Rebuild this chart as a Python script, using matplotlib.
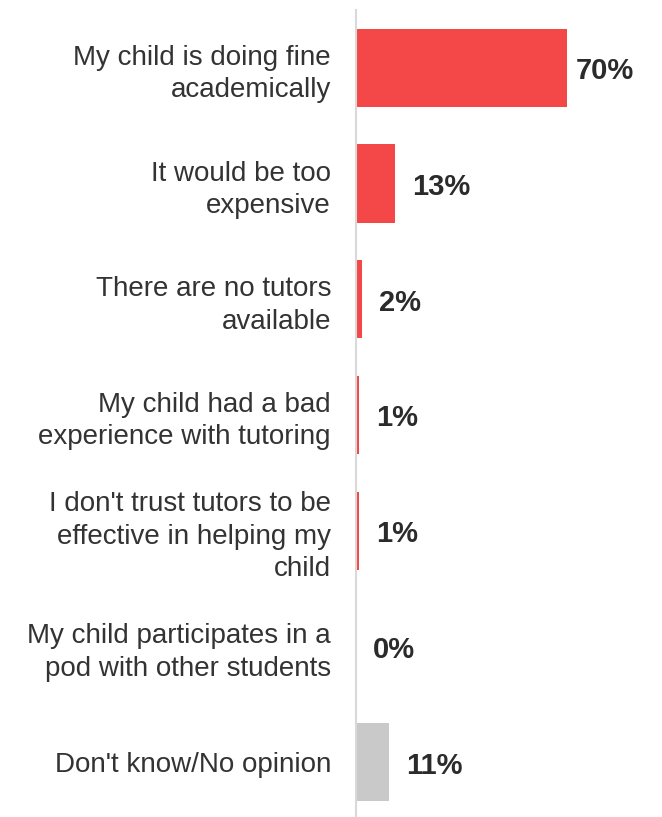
import matplotlib.pyplot as plt

categories = [
    "My child is doing fine\nacademically",
    "It would be too\nexpensive",
    "There are no tutors\navailable",
    "My child had a bad\nexperience with tutoring",
    "I don't trust tutors to be\neffective in helping my\nchild",
    "My child participates in a\npod with other students",
    "Don't know/No opinion",
]
values = [70, 13, 2, 1, 1, 0, 11]
value_labels = ["70%", "13%", "2%", "1%", "1%", "0%", "11%"]
colors = ["#F44848"] * 6 + ["#C9C9C9"]

plt.rcParams['font.family'] = ['Liberation Sans', 'DejaVu Sans']

W, H = 662, 817
fig = plt.figure(figsize=(W / 100, H / 100), dpi=100)
ax = fig.add_axes([356 / W, 0, (W - 356) / W, 807 / H])

y = list(range(len(categories)))
ax.barh(y, values, height=0.675, color=colors, left=0)
ax.set_xlim(0, (W - 356) / 3.02)
ax.set_ylim(len(categories) - 0.525, -0.5)

for yi, v, lab in zip(y, values, value_labels):
    off = 6 if v == max(values) else 12
    ax.annotate(lab, (v, yi), xytext=(off, -2.5), textcoords='offset points',
                va='center', ha='left', fontsize=21, fontweight='bold',
                color='#2B2B2B')

ax.set_yticks(y)
ax.set_yticklabels(categories, fontsize=20, color='#333333',
                   linespacing=1.32, ha='right')
ax.tick_params(axis='y', length=0, pad=18)
ax.set_xticks([])
for s in ['top', 'right', 'bottom']:
    ax.spines[s].set_visible(False)
ax.spines['left'].set_color('#D9D9D9')
ax.spines['left'].set_linewidth(1.5)

fig.savefig('out.png', dpi=100)
